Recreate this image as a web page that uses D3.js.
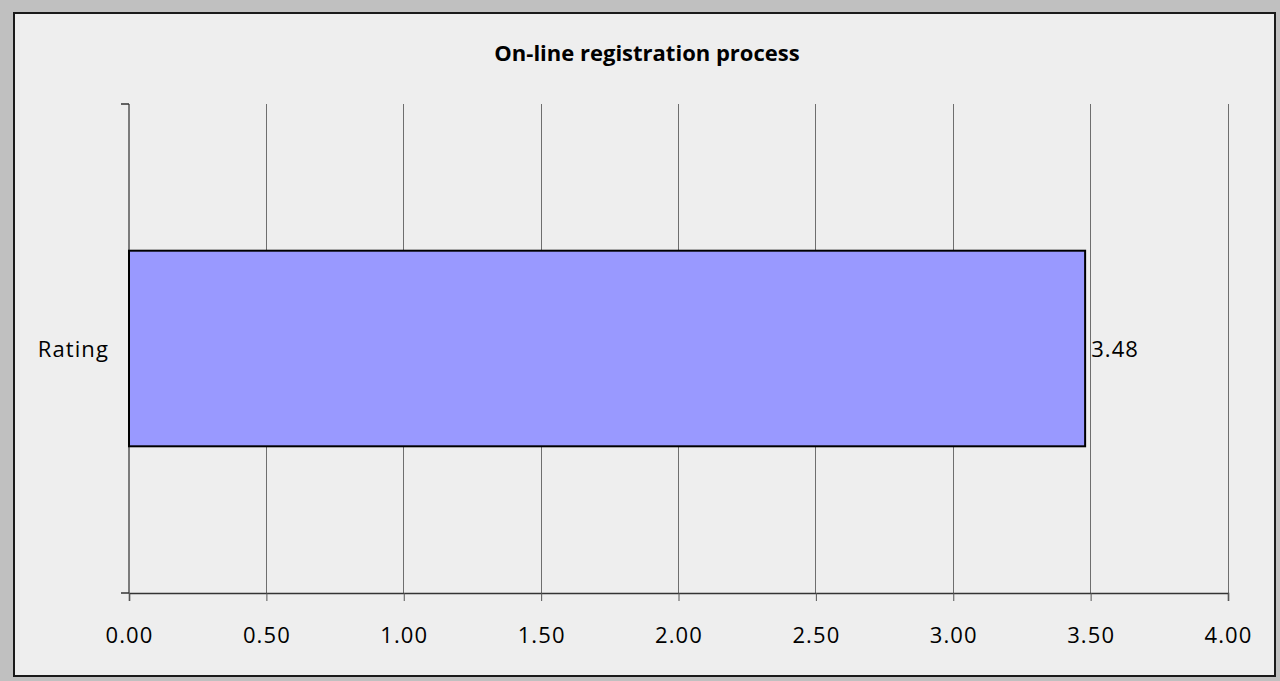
<!DOCTYPE html>
<html><head><meta charset="utf-8">
<script src="https://cdn.jsdelivr.net/npm/d3@7"></script>
<style>html,body{margin:0;padding:0;background:#c0c0c0;}svg{display:block;}</style>
</head><body>
<script>
const categories = ["Rating"];
const values = [3.48];
const xTicks = [0, 0.5, 1, 1.5, 2, 2.5, 3, 3.5, 4];
const chartTitle = "On-line registration process";

const W = 1280, H = 681;
const FONT = "Open Sans, sans-serif";
const svg = d3.select("body").append("svg").attr("width", W).attr("height", H);
svg.append("rect").attr("width", W).attr("height", H).attr("fill", "#c0c0c0");
svg.append("rect").attr("x", 14).attr("y", 13).attr("width", 1261).attr("height", 663)
  .attr("fill", "#eeeeee").attr("stroke", "#1a1a1a").attr("stroke-width", 2);

const pL = 129, pR = 1228, pT = 104, pB = 593;
const x = d3.scaleLinear().domain([0, 4]).range([pL, pR]);
const y = d3.scaleBand().domain(categories).range([pT, pB]).paddingInner(0.6).paddingOuter(0.3);

svg.append("text").attr("x", 647).attr("y", 61).attr("text-anchor", "middle")
  .attr("font-family", FONT).attr("font-weight", "bold").attr("font-size", 22)
  .attr("fill", "#000").text(chartTitle);

// gridlines
svg.append("g").selectAll("line").data(xTicks.slice(1)).join("line")
  .attr("x1", d => x(d)).attr("x2", d => x(d)).attr("y1", pT).attr("y2", pB)
  .attr("stroke", "#6e6e6e").attr("stroke-width", 1).attr("shape-rendering", "crispEdges");

// x axis
const xa = svg.append("g").attr("transform", `translate(0,${pB})`)
  .call(d3.axisBottom(x).tickValues(xTicks).tickFormat(d3.format(".2f")).tickSize(8).tickPadding(26));
xa.select(".domain").attr("stroke", "#333").attr("stroke-width", 1.5);
xa.selectAll(".tick line").attr("stroke", "#555");
xa.selectAll("text").attr("font-family", FONT).attr("font-size", 22)
  .attr("letter-spacing", 1.1).attr("fill", "#000");

// y axis
const ya = svg.append("g").attr("transform", `translate(${pL},0)`)
  .call(d3.axisLeft(y).tickSize(0).tickPadding(20));
ya.select(".domain").remove();
svg.append("line").attr("x1", pL).attr("x2", pL).attr("y1", pT).attr("y2", pB)
  .attr("stroke", "#555").attr("stroke-width", 1.5);
svg.selectAll(".yt").data([pT, pB]).join("line").attr("class", "yt")
  .attr("x1", pL - 8).attr("x2", pL).attr("y1", d => d).attr("y2", d => d)
  .attr("stroke", "#333").attr("stroke-width", 1.5);
ya.selectAll("text").attr("font-family", FONT).attr("font-size", 22)
  .attr("dy", "0.4em").attr("letter-spacing", 1.1).attr("fill", "#000");

// bars
svg.append("g").selectAll("rect").data(values).join("rect")
  .attr("x", x(0)).attr("y", (d, i) => y(categories[i]))
  .attr("width", d => x(d) - x(0)).attr("height", y.bandwidth())
  .attr("fill", "#9999ff").attr("stroke", "#000").attr("stroke-width", 2);

svg.append("g").selectAll("text").data(values).join("text")
  .attr("x", d => x(d) + 6).attr("y", (d, i) => y(categories[i]) + y.bandwidth() / 2)
  .attr("dy", "0.4em").attr("font-family", FONT).attr("font-size", 22)
  .attr("letter-spacing", 1.1).attr("fill", "#000").text(d => d.toFixed(2));
</script>
</body></html>
